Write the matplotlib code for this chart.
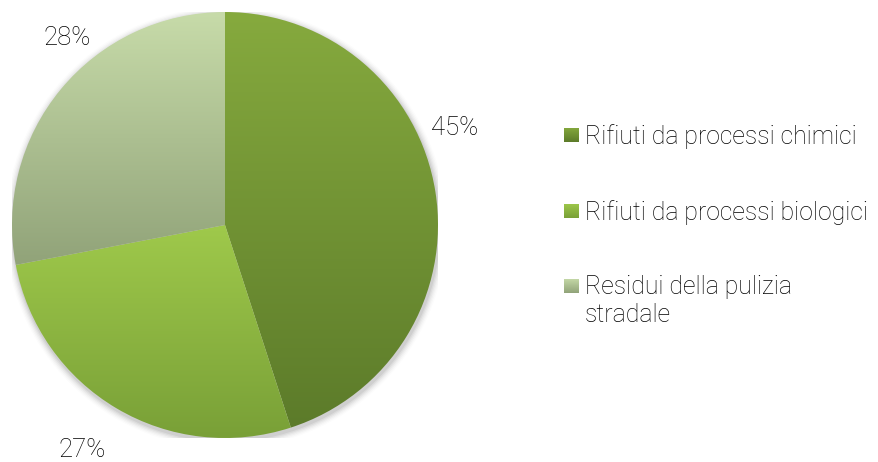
import numpy as np
import matplotlib
matplotlib.use("Agg")
import matplotlib.pyplot as plt
from matplotlib.colors import LinearSegmentedColormap
from matplotlib.patches import Circle

# dati
categorie = ["Rifiuti da processi chimici", "Rifiuti da processi biologici",
             "Residui della pulizia\nstradale"]
valori = [45, 27, 28]
etichette = ["45%", "27%", "28%"]
# colori (alto, basso) di ogni spicchio
colori = [("#86aa3e", "#5c7b2a"), ("#9fc94b", "#79a037"), ("#c7dba9", "#91a379")]
pos_etichette = [(1.08, 0.455), (-0.671, -1.056), (-0.742, 0.878)]

plt.rcParams['font.family'] = ['Roboto', 'DejaVu Sans']
W, H = 879, 462
fig = plt.figure(figsize=(W / 100, H / 100), dpi=100)

cx, cy, r = 225, 225, 213
ax = fig.add_axes([(cx - r) / W, (H - cy - r) / H, 2 * r / W, 2 * r / H])
ax.set_xlim(-1, 1)
ax.set_ylim(-1, 1)
ax.set_aspect('equal')
ax.axis('off')

# ombra leggera
for i, a in enumerate(np.linspace(0.05, 0.01, 6)):
    ax.add_patch(Circle((0.005, -0.012), 1.0 + 0.006 * (i + 1), color='black',
                        alpha=a, lw=0, zorder=0))

wedges, _ = ax.pie(valori, startangle=90, counterclock=False, radius=1,
                   wedgeprops=dict(lw=0))

grad = np.linspace(1, 0, 256).reshape(-1, 1)
for w, (top, bot) in zip(wedges, colori):
    w.set_facecolor('none')
    ext = w.get_path().get_extents()
    cmap = LinearSegmentedColormap.from_list('g', [bot, top])
    im = ax.imshow(grad, cmap=cmap, aspect='auto', origin='upper',
                   extent=[ext.x0, ext.x1, ext.y0, ext.y1], zorder=2)
    im.set_clip_path(w)
ax.set_xlim(-1, 1)
ax.set_ylim(-1, 1)

for (x, y), t in zip(pos_etichette, etichette):
    ax.text(x, y, t, ha='center', va='center', fontsize=18.5, fontweight='light',
            color='#000000', clip_on=False)

# legenda
righe_y = [135, 211, 286]
for (top, bot), y, testo in zip(colori, righe_y, categorie):
    s = 15
    lax = fig.add_axes([564 / W, (H - y - s / 2) / H, s / W, s / H])
    cmap = LinearSegmentedColormap.from_list('g', [bot, top])
    lax.imshow(grad, cmap=cmap, aspect='auto')
    lax.axis('off')
    fig.text(585 / W, (H - y + 11) / H, testo, ha='left', va='top',
             fontsize=17.8, fontweight='light', color='#000000', linespacing=1.2)

fig.savefig("out.png", dpi=100)
